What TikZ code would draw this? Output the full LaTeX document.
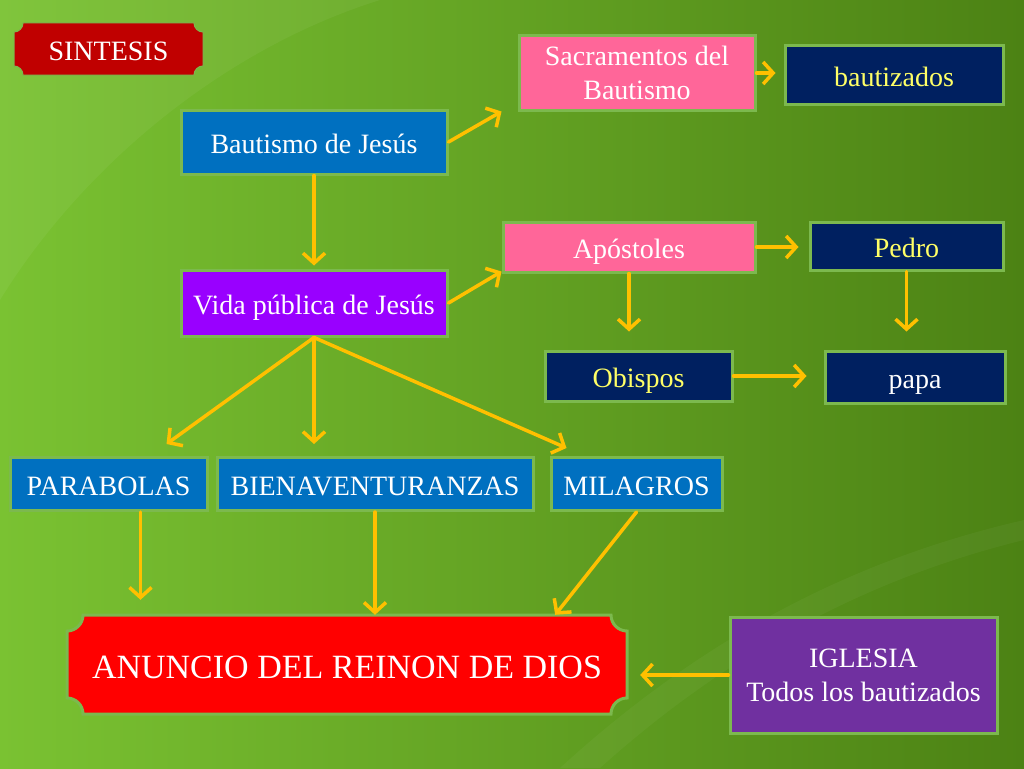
\documentclass[tikz,border=0pt]{standalone}
\usepackage{fontspec}
\setmainfont{Liberation Serif}
\usetikzlibrary{arrows.meta,calc}
\definecolor{bgL}{HTML}{7AC232}
\definecolor{bgR}{HTML}{4C8214}
\definecolor{brd}{HTML}{7CB94E}
\definecolor{cblue}{HTML}{0070C0}
\definecolor{cpink}{HTML}{FF6699}
\definecolor{cnavy}{HTML}{002060}
\definecolor{cviolet}{HTML}{9900FF}
\definecolor{cpurple}{HTML}{7030A0}
\definecolor{cdred}{HTML}{C00000}
\definecolor{cred}{HTML}{FF0000}
\definecolor{cyel}{HTML}{FFFF66}
\definecolor{carrow}{HTML}{FFC000}
\newcommand{\plq}[6]{%
  \path[#6] ({#1+#5},#2) -- ({#3-#5},#2)
    .. controls ({#3-#5},{#2+0.552*#5}) and ({#3-0.552*#5},{#2+#5}) .. (#3,{#2+#5})
    -- (#3,{#4-#5})
    .. controls ({#3-0.552*#5},{#4-#5}) and ({#3-#5},{#4-0.552*#5}) .. ({#3-#5},#4)
    -- ({#1+#5},#4)
    .. controls ({#1+#5},{#4-0.552*#5}) and ({#1+0.552*#5},{#4-#5}) .. (#1,{#4-#5})
    -- (#1,{#2+#5})
    .. controls ({#1+0.552*#5},{#2+#5}) and ({#1+#5},{#2+0.552*#5}) .. cycle;}
\begin{document}
\begin{tikzpicture}[x=1pt,y=-1pt,
  txt/.style={text=white, font=\fontsize{28}{34}\selectfont, align=center, inner sep=0pt},
  one/.style={text height=24pt, text depth=2pt},
  box/.style={txt, draw=brd, line width=3pt, minimum width=#1},
  arr/.style={draw=carrow, line width=3.5pt, line cap=round,
    -{Straight Barb[length=10pt,width=22pt,line width=3.5pt]}}]
\useasboundingbox (0,0) rectangle (1024,768);
\shade[left color=bgL, right color=bgR] (0,0) rectangle (1024,768);
\fill[white, opacity=0.05] (0,0) -- (380,0) .. controls (220,50) and (80,170) .. (0,300) -- cycle;
\fill[white, opacity=0.04] (560,768) .. controls (700,640) and (850,560) .. (1024,520) -- (1024,540) .. controls (860,580) and (720,660) .. (600,768) -- cycle;

% plaques
\plq{14}{23}{203}{75}{9}{fill=cdred, draw=brd, line width=1pt}
\node[txt, one, minimum width=189pt, minimum height=52pt] (sint) at (108.5,49) {SINTESIS};
\plq{67}{615}{627}{714}{16}{fill=cred, draw=brd, line width=3pt}
\node[txt, font=\fontsize{34}{40}\selectfont, text height=28pt, text depth=1pt, minimum width=560pt, minimum height=99pt] (anun) at (347,664.5) {ANUNCIO DEL REINON DE DIOS};

% boxes
\node[box=266pt, one, minimum height=64pt, fill=cblue] (bj) at (314,142) {Bautismo de Jesús};
\node[box=236pt, minimum height=74pt, fill=cpink] (sac) at (637,73) {Sacramentos del\\Bautismo};
\node[box=218pt, one, minimum height=58pt, fill=cnavy, text=cyel] (baut) at (894,75) {bautizados};
\node[box=252pt, one, minimum height=50pt, fill=cpink] (apo) at (629,247) {Apóstoles};
\node[box=193pt, one, minimum height=48pt, fill=cnavy, text=cyel] (ped) at (906.5,246) {Pedro};
\node[box=266pt, one, minimum height=66pt, fill=cviolet] (vida) at (314,303) {Vida pública de Jesús};
\node[box=187pt, one, minimum height=50pt, fill=cnavy, text=cyel] (obi) at (638.5,376) {Obispos};
\node[box=180pt, one, minimum height=52pt, fill=cnavy] (papa) at (915,377) {papa};
\node[box=197pt, one, minimum height=53pt, fill=cblue] (par) at (108.5,484) {PARABOLAS};
\node[box=316pt, one, minimum height=53pt, fill=cblue] (bien) at (375,484) {BIENAVENTURANZAS};
\node[box=171pt, one, minimum height=53pt, fill=cblue] (mil) at (636.5,484) {MILAGROS};
\node[box=267pt, minimum height=116pt, fill=cpurple] (igl) at (863.5,675) {IGLESIA\\Todos los bautizados};

% connectors
\coordinate (pa) at ($(par.south)+(32,0)$);
\draw[arr] (bj.east) -- ($(sac.south west)+(-16,0)$);
\draw[arr, shorten >=8pt] (sac.east) -- (sac.east -| baut.west);
\draw[arr, shorten >=3pt] (bj.south) -- (vida.north);
\draw[arr] (vida.east) -- ($(apo.south west)+(0,-2)$);
\draw[arr, shorten >=10pt] (apo.east) -- (apo.east -| ped.west);
\draw[arr, shorten >=18pt] (apo.south) -- (apo.south |- obi.north);
\draw[arr, shorten >=18pt] (ped.south) -- (ped.south |- papa.north);
\draw[arr, shorten >=17pt] (obi.east) -- (obi.east -| papa.west);
\draw[arr] (vida.south) -- ($(par.north)+(58,-12)$);
\draw[arr, shorten >=12pt] (vida.south) -- (vida.south |- bien.north);
\draw[arr] (vida.south) -- ($(mil.north west)+(17,-8)$);
\draw[arr, shorten >=15pt] (pa) -- (pa |- anun.north);
\draw[arr] (bien.south) -- (bien.south |- anun.north);
\draw[arr] (mil.south) -- ($(anun.north east)+(-72,0)$);
\draw[arr, shorten >=13pt] (igl.west) -- (igl.west -| anun.east);
\end{tikzpicture}
\end{document}
